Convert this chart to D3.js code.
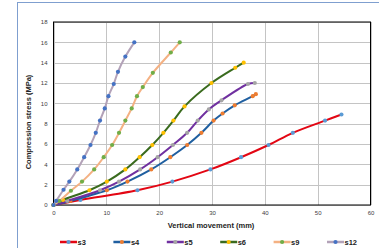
<!DOCTYPE html>
<html>
<head>
<meta charset="utf-8">
<script src="https://cdn.jsdelivr.net/npm/d3@7"></script>
<style>
  body { margin: 0; background: #fff; }
  svg { display: block; font-family: "Liberation Sans", Arial, sans-serif; }
</style>
</head>
<body>
<svg id="chart" width="379" height="248"></svg>
<script>
// series names and colours
const names = ["s3", "s4", "s5", "s6", "s9", "s12"];
const lineColors = ["#e30613", "#1f5fa0", "#7030a0", "#3a6b1e", "#f4b183", "#b3a2b8"];
const dotColors = ["#5b9bd5", "#ed7d31", "#a5a5a5", "#ffc000", "#70ad47", "#4472c4"];

// vertical movement (mm) / compression stress (MPa)
const s3x = [0, 5.1, 15.9, 22.5, 29.7, 35.5, 40.7, 45.3, 51.4, 54.5];
const s3y = [0, 0.5, 1.45, 2.3, 3.5, 4.7, 5.9, 7.1, 8.3, 8.9];
const s4x = [0, 3.2, 10.1, 14.0, 18.5, 22.1, 25.3, 28.0, 30.3, 32.0, 34.3, 37.7, 38.3];
const s4y = [0, 0.4, 1.45, 2.3, 3.5, 4.7, 5.9, 7.1, 8.3, 9.0, 9.8, 10.7, 10.9];
const s5x = [0, 2.6, 8.8, 12.4, 16.4, 19.7, 22.6, 25.3, 27.3, 29.4, 31.8, 36.8, 38.1];
const s5y = [0, 0.4, 1.45, 2.3, 3.5, 4.7, 5.9, 7.1, 8.3, 9.4, 10.3, 11.9, 12.0];
const s6x = [0, 1.8, 6.8, 10.1, 13.6, 16.3, 18.7, 20.8, 22.7, 24.8, 29.9, 34.4, 36.0];
const s6y = [0, 0.5, 1.45, 2.3, 3.5, 4.7, 5.9, 7.1, 8.3, 9.7, 12.0, 13.5, 14.0];
const s9x = [0, 1.1, 3.3, 5.4, 7.7, 9.5, 11.1, 12.4, 13.6, 14.8, 15.8, 16.9, 18.8, 22.2, 23.9];
const s9y = [0, 0.4, 1.4, 2.3, 3.5, 4.7, 5.9, 7.1, 8.3, 9.5, 10.7, 11.6, 13.0, 15.0, 16.0];
const s12x = [0, 0.5, 1.9, 3.0, 4.5, 5.8, 7.0, 8.0, 8.8, 9.7, 10.4, 11.4, 12.2, 13.6, 15.3];
const s12y = [0, 0.4, 1.5, 2.3, 3.5, 4.7, 5.9, 7.1, 8.3, 9.5, 10.7, 11.9, 13.1, 14.6, 16.0];

const xTicks = [0, 10, 20, 30, 40, 50, 60];
const yTicks = [0, 2, 4, 6, 8, 10, 12, 14, 16, 18];

const xs = [s3x, s4x, s5x, s6x, s9x, s12x];
const ys = [s3y, s4y, s5y, s6y, s9y, s12y];
const series = names.map((n, i) => ({
  name: n, line: lineColors[i], dot: dotColors[i],
  values: xs[i].map((v, j) => [v, ys[i][j]])
}));

const svg = d3.select("#chart");
const m = {left: 53.5, top: 22, right: 370.5, bottom: 205};

// outer chart frame (only top/left visible)
svg.append("rect")
  .attr("x", 17.5).attr("y", 2.5).attr("width", 400).attr("height", 300)
  .attr("fill", "none").attr("stroke", "#7f9fcf").attr("stroke-width", 1);

const x = d3.scaleLinear().domain([0, 60]).range([m.left, m.right]);
const y = d3.scaleLinear().domain([0, 18]).range([m.bottom, m.top]);

// grid
const grid = svg.append("g").attr("stroke", "#c4c4c4").attr("stroke-width", 1);
grid.selectAll(".gx").data(xTicks).join("line")
  .attr("x1", d => Math.round(x(d)) + 0.5).attr("x2", d => Math.round(x(d)) + 0.5)
  .attr("y1", m.top).attr("y2", m.bottom);
grid.selectAll(".gy").data(yTicks).join("line")
  .attr("y1", d => Math.round(y(d)) + 0.5).attr("y2", d => Math.round(y(d)) + 0.5)
  .attr("x1", m.left).attr("x2", m.right);

// plot border
svg.append("rect")
  .attr("x", m.left).attr("y", m.top)
  .attr("width", m.right - m.left).attr("height", m.bottom - m.top)
  .attr("fill", "none").attr("stroke", "#000").attr("stroke-width", 1);

// axes
const xAxis = d3.axisBottom(x).tickValues(xTicks).tickSize(0).tickPadding(6);
const yAxis = d3.axisLeft(y).tickValues(yTicks).tickSize(0).tickPadding(6);
svg.append("g").attr("transform", `translate(0,${m.bottom})`).call(xAxis)
  .call(g => g.select(".domain").remove())
  .selectAll("text").attr("font-size", 6).attr("fill", "#404040");
svg.append("g").attr("transform", `translate(${m.left},0)`).call(yAxis)
  .call(g => g.select(".domain").remove())
  .selectAll("text").attr("font-size", 6).attr("fill", "#404040");

// titles
svg.append("text")
  .attr("x", 211).attr("y", 228)
  .attr("text-anchor", "middle").attr("font-size", 7.5).attr("font-weight", "bold")
  .attr("fill", "#222").text("Vertical movement (mm)");
svg.append("text")
  .attr("transform", "translate(31,122) rotate(-90)")
  .attr("text-anchor", "middle").attr("font-size", 7.5).attr("font-weight", "bold")
  .attr("fill", "#222").text("Compression stress (MPa)");

// series
const line = d3.line().x(d => x(d[0])).y(d => y(d[1])).curve(d3.curveCatmullRom);
const sg = svg.append("g").selectAll("g").data(series).join("g");
sg.append("path")
  .attr("d", d => line(d.values))
  .attr("fill", "none").attr("stroke", d => d.line).attr("stroke-width", 2);
sg.selectAll("circle").data(d => d.values.map(v => ({v, c: d.dot}))).join("circle")
  .attr("cx", d => x(d.v[0])).attr("cy", d => y(d.v[1])).attr("r", 2.1)
  .attr("fill", d => d.c);

// legend
const lg = svg.append("g").selectAll("g").data(series).join("g")
  .attr("transform", (d, i) => `translate(${60 + i * 53.4},242)`);
lg.append("line").attr("x1", 0).attr("x2", 17).attr("y1", 0).attr("y2", 0)
  .attr("stroke", d => d.line).attr("stroke-width", 2.5);
lg.append("circle").attr("cx", 8.5).attr("cy", 0).attr("r", 2.1).attr("fill", d => d.dot);
lg.append("text").attr("x", 17.5).attr("y", 2.5)
  .attr("font-size", 7.5).attr("font-weight", "bold").attr("fill", "#222")
  .text(d => d.name);
</script>
</body>
</html>
